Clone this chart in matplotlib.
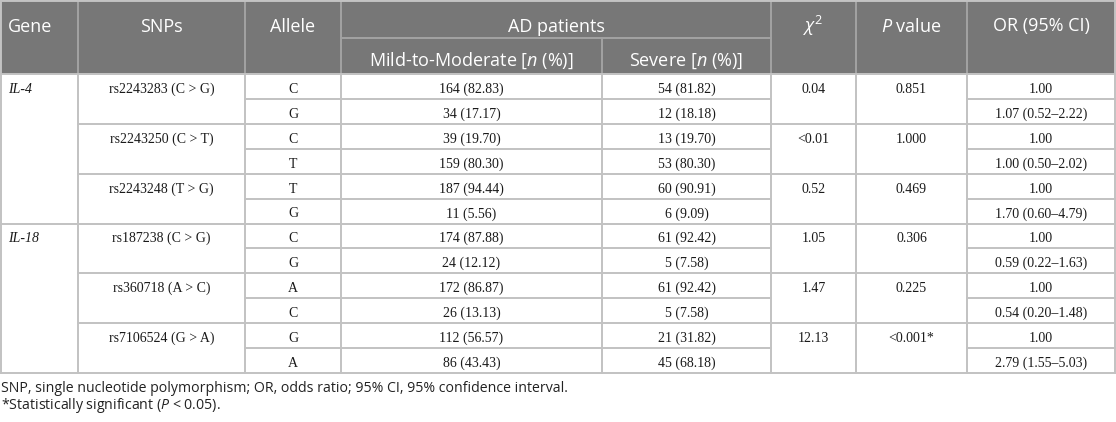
import matplotlib.pyplot as plt

plt.rcParams["mathtext.fontset"] = "custom"
plt.rcParams["mathtext.rm"] = "Open Sans"
plt.rcParams["mathtext.it"] = "Open Sans:italic"

# table data
genes = ["IL-4", "IL-18"]
snps_per_gene = [3, 3]
snps = ["rs2243283 (C > G)", "rs2243250 (C > T)", "rs2243248 (T > G)",
        "rs187238 (C > G)", "rs360718 (A > C)", "rs7106524 (G > A)"]
alleles = ["C", "G", "C", "T", "T", "G", "C", "G", "A", "C", "G", "A"]
mild = ["164 (82.83)", "34 (17.17)", "39 (19.70)", "159 (80.30)",
        "187 (94.44)", "11 (5.56)", "174 (87.88)", "24 (12.12)",
        "172 (86.87)", "26 (13.13)", "112 (56.57)", "86 (43.43)"]
severe = ["54 (81.82)", "12 (18.18)", "13 (19.70)", "53 (80.30)",
          "60 (90.91)", "6 (9.09)", "61 (92.42)", "5 (7.58)",
          "61 (92.42)", "5 (7.58)", "21 (31.82)", "45 (68.18)"]
chi2 = ["0.04", "<0.01", "0.52", "1.05", "1.47", "12.13"]
pvals = ["0.851", "1.000", "0.469", "0.306", "0.225", "<0.001*"]
orci = ["1.00", "1.07 (0.52–2.22)", "1.00", "1.00 (0.50–2.02)",
        "1.00", "1.70 (0.60–4.79)", "1.00", "0.59 (0.22–1.63)",
        "1.00", "0.54 (0.20–1.48)", "1.00", "2.79 (1.55–5.03)"]
notes = ["SNP, single nucleotide polymorphism; OR, odds ratio; 95% CI, 95% confidence interval.",
         "*Statistically significant ($P$ < 0.05)."]

W, H = 1116, 422
fig = plt.figure(figsize=(W / 100, H / 100), dpi=100)
ax = fig.add_axes([0, 0, 1, 1])
ax.set_xlim(0, W)
ax.set_ylim(H, 0)
ax.axis("off")

cols = [1, 78, 245, 341, 602, 771, 856, 967, 1115]
top, mid, hbot = 1, 37.5, 74.3
rh = 24.87
bot = hbot + 12 * rh
header_bg = "#777777"
grid = "#c2c2c2"
hgrid = "#a3a3a3"
sans = "Open Sans"
serif = "Liberation Serif"

# header
ax.add_patch(plt.Rectangle((cols[0], top), cols[-1] - cols[0], hbot - top,
                           facecolor=header_bg, edgecolor="none"))
hkw = dict(color="white", fontsize=13, family=sans, va="baseline")
hy, sy = 31.5, 66
ax.text(8, hy, "Gene", ha="left", **hkw)
ax.text((cols[1] + cols[2]) / 2, hy, "SNPs", ha="center", **hkw)
ax.text((cols[2] + cols[3]) / 2, hy, "Allele", ha="center", **hkw)
ax.text((cols[3] + cols[5]) / 2, hy, "AD patients", ha="center", **hkw)
ax.text((cols[3] + cols[4]) / 2, sy, "Mild-to-Moderate [$n$ (%)]", ha="center", **hkw)
ax.text((cols[4] + cols[5]) / 2, sy, "Severe [$n$ (%)]", ha="center", **hkw)
ax.text((cols[5] + cols[6]) / 2, hy, r"$\chi^2$", ha="center", **hkw)
ax.text((cols[6] + cols[7]) / 2, hy, "$P$ value", ha="center", **hkw)
ax.text((cols[7] + cols[8]) / 2, hy, "OR (95% CI)", ha="center", **hkw)

hl = dict(color=hgrid, lw=1.4)
ax.plot([cols[3], cols[5]], [mid, mid], **hl)
for x in cols[1:-1]:
    y0 = mid if x == cols[4] else top
    ax.plot([x, x], [y0, hbot], **hl)

# body
dkw = dict(fontsize=10, family=serif, va="baseline", color="#1a1a1a")
by = lambda i: hbot + i * rh + 18.8
ln = dict(color=grid, lw=1.4)

r = 0
for g, n in zip(genes, snps_per_gene):
    ax.text(8.5, by(r), g, ha="left", style="italic", **dkw)
    ax.plot([cols[0], cols[-1]], [hbot + r * rh] * 2, **ln)
    r += 2 * n

for k, snp in enumerate(snps):
    r0 = 2 * k
    ax.text((cols[1] + cols[2]) / 2, by(r0), snp, ha="center", **dkw)
    ax.text((cols[5] + cols[6]) / 2, by(r0), chi2[k], ha="center", **dkw)
    ax.text((cols[6] + cols[7]) / 2, by(r0), pvals[k], ha="center", **dkw)
    ax.plot([cols[1], cols[-1]], [hbot + r0 * rh] * 2, **ln)
    yin = hbot + (r0 + 1) * rh
    ax.plot([cols[2], cols[5]], [yin, yin], **ln)
    ax.plot([cols[7], cols[8]], [yin, yin], **ln)

for i in range(len(alleles)):
    ax.text((cols[2] + cols[3]) / 2, by(i), alleles[i], ha="center", **dkw)
    ax.text((cols[3] + cols[4]) / 2, by(i), mild[i], ha="center", **dkw)
    ax.text((cols[4] + cols[5]) / 2, by(i), severe[i], ha="center", **dkw)
    ax.text((cols[7] + cols[8]) / 2, by(i), orci[i], ha="center", **dkw)

ax.plot([cols[0], cols[-1]], [bot, bot], **ln)
for x in cols:
    ax.plot([x, x], [hbot, bot], **ln)
for x in (cols[0], cols[-1]):
    ax.plot([x, x], [top, hbot], **ln)
ax.plot([cols[0], cols[-1]], [top, top], **ln)

# footnotes
for j, t in enumerate(notes):
    ax.text(1, 391.5 + j * 17.8, t, ha="left", va="baseline", fontsize=10.2,
            family=sans, color="#222222")

fig.savefig("out.png", dpi=100)
